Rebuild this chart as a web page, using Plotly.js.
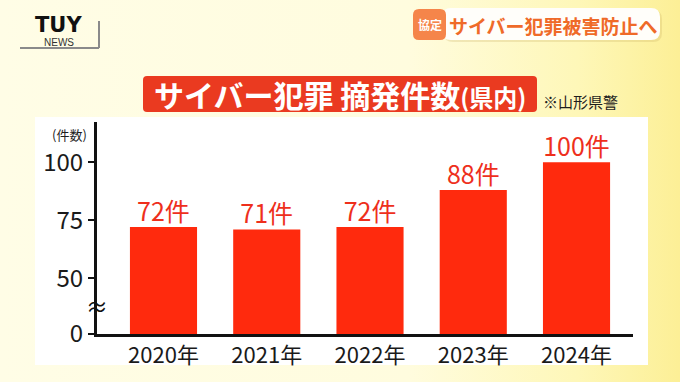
<!DOCTYPE html>
<html>
<head>
<meta charset="utf-8">
<script src="https://cdn.plot.ly/plotly-3.0.1.min.js"></script>
<style>
  html, body { margin: 0; padding: 0; }
  body {
    width: 680px; height: 382px; overflow: hidden;
    background: linear-gradient(90deg, #fffde6 0%, #fffcde 60%, #fef7b8 85%, #fcef96 100%);
  }
  #chart { width: 680px; height: 382px; }
</style>
</head>
<body>
<div id="chart"></div>
<script>
// ---- data ----
const years = ['2020年', '2021年', '2022年', '2023年', '2024年'];
const counts = [72, 71, 72, 88, 100];
const barLabels = ['72件', '71件', '72件', '88件', '100件'];
// broken axis: the "0" label sits at the break value (bottom of the visible range)
const yTickVals = [25.9, 50, 75, 100];
const yTickText = ['0', '50', '75', '100'];

// ---- layout geometry (pixels of the plot area) ----
const L = 97, R = 633, T = 122, B = 334;
const W = 680, H = 382;
const px = p => (p - L) / (R - L);
const py = p => (B - p) / (B - T);

function roundRect(x0, y0, x1, y1, r) {
  const P = (x, y) => px(x) + ',' + py(y);
  return 'M' + P(x0 + r, y0) +
    ' L' + P(x1 - r, y0) + ' Q' + P(x1, y0) + ' ' + P(x1, y0 + r) +
    ' L' + P(x1, y1 - r) + ' Q' + P(x1, y1) + ' ' + P(x1 - r, y1) +
    ' L' + P(x0 + r, y1) + ' Q' + P(x0, y1) + ' ' + P(x0, y1 - r) +
    ' L' + P(x0, y0 + r) + ' Q' + P(x0, y0) + ' ' + P(x0 + r, y0) + ' Z';
}

const JP = '"Noto Sans CJK JP", "Noto Sans", sans-serif';

const bars = {
  type: 'bar',
  x: years,
  y: counts,
  width: 0.65,
  marker: { color: '#ff2a0d' },
  hoverinfo: 'skip'
};

const labelsTrace = {
  type: 'scatter',
  mode: 'text',
  x: years,
  y: counts,
  text: barLabels,
  textposition: 'top center',
  textfont: { family: JP, size: 25, color: '#ee2f1c' },
  cliponaxis: false,
  hoverinfo: 'skip'
};

const shapes = [
  // white panel
  { type: 'rect', xref: 'paper', yref: 'paper', layer: 'below',
    x0: px(35), x1: px(648), y0: py(365), y1: py(117),
    fillcolor: '#ffffff', line: { width: 0 } },
  // title box
  { type: 'path', xref: 'paper', yref: 'paper', layer: 'above',
    path: roundRect(143, 76, 537, 112, 4),
    fillcolor: '#ea3a20', line: { width: 0 } },
  // top-right banner shadow + body
  { type: 'path', xref: 'paper', yref: 'paper', layer: 'above',
    path: roundRect(444, 10, 662, 42, 9),
    fillcolor: 'rgba(200,170,90,0.25)', line: { width: 0 } },
  { type: 'path', xref: 'paper', yref: 'paper', layer: 'above',
    path: roundRect(442, 8, 660, 40, 9),
    fillcolor: '#fffefa', line: { width: 0 } },
  { type: 'path', xref: 'paper', yref: 'paper', layer: 'above',
    path: roundRect(413, 9, 446, 40, 6),
    fillcolor: '#f5854a', line: { width: 0 } },
  // logo bracket lines
  { type: 'line', xref: 'paper', yref: 'paper',
    x0: px(20), x1: px(99), y0: py(48), y1: py(48),
    line: { color: '#8a8a8a', width: 2 } },
  { type: 'line', xref: 'paper', yref: 'paper',
    x0: px(99), x1: px(99), y0: py(21), y1: py(48),
    line: { color: '#8a8a8a', width: 2 } }
];

const A = (x, y, text, font) => ({
  xref: 'paper', yref: 'paper', x: px(x), y: py(y),
  xanchor: 'center', yanchor: 'middle', showarrow: false, text: text, font: font
});

const annotations = [
  A(340, 94, '<b>サイバー犯罪 摘発件数<span style="font-size:24px">(県内)</span></b>',
    { family: JP, size: 30, color: '#ffffff' }),
  A(580, 101, '※山形県警', { family: JP, size: 15, color: '#1e1e1e' }),
  A(69, 134, '(件数)', { family: JP, size: 13, color: '#1e1e1e' }),
  A(97, 305, '≈', { family: JP, size: 22, color: '#111111' }),
  A(58, 25, '<b>TUY</b>', { family: '"DejaVu Sans", sans-serif', size: 21, color: '#111111' }),
  A(59, 43, 'NEWS', { family: '"Liberation Sans", Arial, sans-serif', size: 10, color: '#333333' }),
  A(429.5, 24.5, '<b>協定</b>', { family: JP, size: 12, color: '#ffffff' }),
  A(553, 25, '<b>サイバー犯罪被害防止へ</b>', { family: JP, size: 19, color: '#ef6a28' })
];

const layout = {
  width: W, height: H,
  margin: { l: L, r: W - R, t: T, b: H - B, pad: 0 },
  paper_bgcolor: 'rgba(0,0,0,0)',
  plot_bgcolor: 'rgba(0,0,0,0)',
  showlegend: false,
  xaxis: {
    type: 'category',
    range: [-0.644, 4.547],
    showline: true, linewidth: 3, linecolor: '#111111',
    ticks: '', showgrid: false, zeroline: false,
    tickfont: { family: JP, size: 22, color: '#1a1a1a' },
    fixedrange: true
  },
  yaxis: {
    range: [25.9, 117.3],
    tickvals: yTickVals, ticktext: yTickText,
    ticks: 'outside', ticklen: 6, tickwidth: 2, tickcolor: '#111111',
    showline: true, linewidth: 3, linecolor: '#111111',
    showgrid: false, zeroline: false,
    tickfont: { family: JP, size: 24, color: '#1a1a1a' },
    fixedrange: true
  },
  shapes: shapes,
  annotations: annotations
};

Plotly.newPlot('chart', [bars, labelsTrace], layout, { displayModeBar: false, staticPlot: true });
</script>
</body>
</html>
